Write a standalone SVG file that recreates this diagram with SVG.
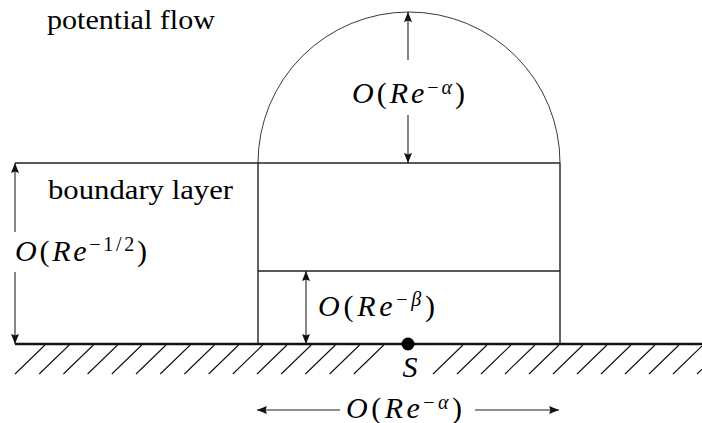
<svg xmlns="http://www.w3.org/2000/svg" width="702" height="423" viewBox="0 0 702 423">
<style>
.txt{font-family:"Liberation Serif","DejaVu Serif",serif;font-size:27px;fill:#000}
.m{font-family:"Liberation Serif","DejaVu Serif",serif;font-size:30px;fill:#000}
.i{font-style:italic}
.sup{font-size:20px}
.ln{stroke:#222;stroke-width:1.4;fill:none}
.thin{stroke:#222;stroke-width:0.9;fill:none}
.arr{stroke:#222;stroke-width:1.1;fill:none;marker-start:url(#ah);marker-end:url(#ah)}
.arrE{stroke:#222;stroke-width:1.1;fill:none;marker-end:url(#ah)}
.hatch{stroke:#111;stroke-width:1.1;fill:none}
</style>
<defs>
<marker id="ah" markerUnits="userSpaceOnUse" markerWidth="11" markerHeight="8" refX="10" refY="4" orient="auto-start-reverse" viewBox="0 0 11 8">
<path d="M0,0 L10,4 L0,8 L1.5,4 z" fill="#111"/>
</marker>
</defs>
<rect width="702" height="423" fill="#fff"/>

<g id="ground">
<line x1="15" y1="344" x2="702" y2="344" stroke="#111" stroke-width="2.6"/>
<path class="hatch" d="M15,374 l30,-29 M39.2,374 l30,-29 M63.4,374 l30,-29 M87.6,374 l30,-29 M111.8,374 l30,-29 M136,374 l30,-29 M160.2,374 l30,-29 M184.4,374 l30,-29 M208.6,374 l30,-29 M232.8,374 l30,-29 M257,374 l30,-29 M281.2,374 l30,-29 M305.4,374 l30,-29 M329.6,374 l30,-29 M353.8,374 l30,-29 M433,374 l30,-29 M457,374 l30,-29 M481,374 l30,-29 M505,374 l30,-29 M529,374 l30,-29 M553,374 l30,-29 M577,374 l30,-29 M601,374 l30,-29 M625,374 l30,-29 M649,374 l30,-29 M673,374 l30,-29 M697,374 l30,-29"/>
</g>

<g id="potential-flow-region">
<path class="thin" d="M258,163 A151,151 0 0 1 560,163"/>
<text class="txt" x="47" y="29" textLength="168" lengthAdjust="spacingAndGlyphs">potential flow</text>
</g>

<g id="boundary-layer">
<line class="ln" x1="15" y1="163" x2="560" y2="163"/>
<text class="txt" x="48" y="199" textLength="185" lengthAdjust="spacingAndGlyphs">boundary layer</text>
</g>

<g id="inner-region">
<line class="ln" x1="258" y1="163" x2="258" y2="344"/>
<line class="ln" x1="560" y1="163" x2="560" y2="344"/>
<line class="ln" x1="258" y1="271" x2="560" y2="271"/>
</g>

<g id="stagnation-point">
<circle cx="408" cy="344" r="6.5" fill="#000"/>
<text class="m i" x="410" y="377" text-anchor="middle">S</text>
</g>

<g id="connectors">
<line class="arrE" x1="15" y1="232" x2="15" y2="163"/>
<line class="arrE" x1="15" y1="272" x2="15" y2="344"/>
<line class="arrE" x1="408" y1="60" x2="408" y2="12"/>
<line class="arrE" x1="408" y1="115" x2="408" y2="163"/>
<line class="arr" x1="306" y1="271" x2="306" y2="344"/>
<line class="arrE" x1="340" y1="410" x2="257" y2="410"/>
<line class="arrE" x1="475" y1="410" x2="559" y2="410"/>
</g>

<g id="label-bl-thickness">
<text class="m" x="15" y="261" textLength="132" lengthAdjust="spacing"><tspan class="i">O</tspan>(<tspan class="i">Re</tspan><tspan class="sup" dy="-10">−1/2</tspan><tspan dy="10">)</tspan></text>
</g>

<g id="label-alpha-top">
<text class="m" x="352" y="103" textLength="113" lengthAdjust="spacing"><tspan class="i">O</tspan>(<tspan class="i">Re</tspan><tspan class="sup" dy="-9">−</tspan><tspan class="sup i">α</tspan><tspan dy="9">)</tspan></text>
</g>

<g id="label-beta">
<text class="m" x="318" y="316" textLength="117" lengthAdjust="spacing"><tspan class="i">O</tspan>(<tspan class="i">Re</tspan><tspan class="sup" dy="-10">−</tspan><tspan class="sup i">β</tspan><tspan dy="10">)</tspan></text>
</g>

<g id="label-alpha-bottom">
<text class="m" x="346" y="418" textLength="116" lengthAdjust="spacing"><tspan class="i">O</tspan>(<tspan class="i">Re</tspan><tspan class="sup" dy="-9">−</tspan><tspan class="sup i">α</tspan><tspan dy="9">)</tspan></text>
</g>
</svg>
